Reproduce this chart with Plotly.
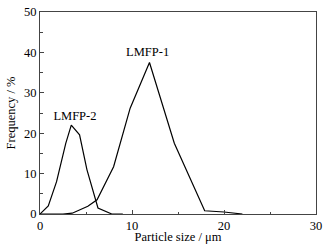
import plotly.graph_objects as go

# Data
lmfp1_x = [0, 2.5, 3.5, 4.4, 5.2, 6.2, 8.0, 9.8, 11.9, 14.6, 17.9, 20.0, 22.0]
lmfp1_y = [0, 0, 0.2, 1.0, 1.9, 3.5, 11.7, 26.2, 37.5, 17.5, 0.8, 0.5, 0]
lmfp2_x = [0, 0.9, 1.8, 2.8, 3.4, 4.3, 5.1, 6.3, 7.8, 9.0]
lmfp2_y = [0, 2.0, 8.0, 17.5, 22.0, 19.6, 11.0, 1.5, 0, 0]
labels = ["LMFP-1", "LMFP-2"]
label_x = [11.7, 3.8]
label_y = [40.0, 24.0]

font = "Liberation Serif"
fig = go.Figure()
for xs, ys in [(lmfp1_x, lmfp1_y), (lmfp2_x, lmfp2_y)]:
    fig.add_trace(go.Scatter(x=xs, y=ys, mode="lines",
                             line=dict(color="black", width=1.2),
                             showlegend=False))
fig.add_trace(go.Scatter(x=label_x, y=label_y, mode="text", text=labels,
                         textfont=dict(family=font, size=12.5, color="black"),
                         showlegend=False))

axis_common = dict(showgrid=False, zeroline=False, showline=True, mirror=True,
                   linecolor="#444", linewidth=1, ticks="inside", ticklen=4,
                   tickcolor="#444", automargin=False,
                   tickfont=dict(family=font, size=12.5, color="black"),
                   minor=dict(ticks="inside", ticklen=2.5, tickcolor="#444"))
fig.update_xaxes(range=[0, 30], dtick=10, tick0=0, minor_dtick=5,
                 title=dict(text="Particle size / μm", standoff=1,
                            font=dict(family=font, size=12.5, color="black")),
                 **axis_common)
fig.update_yaxes(range=[0, 50], dtick=10, tick0=0, minor_dtick=5,
                 title=dict(text="Frequency / %", standoff=5,
                            font=dict(family=font, size=12.5, color="black")),
                 **axis_common)
fig.update_layout(width=330, height=244, margin=dict(l=40, r=14, t=12, b=30),
                  paper_bgcolor="white", plot_bgcolor="white")
fig.write_html("out.html", config={"displayModeBar": False},
               post_script="document.body.style.margin='0';"
                           "document.body.style.overflow='hidden';")
